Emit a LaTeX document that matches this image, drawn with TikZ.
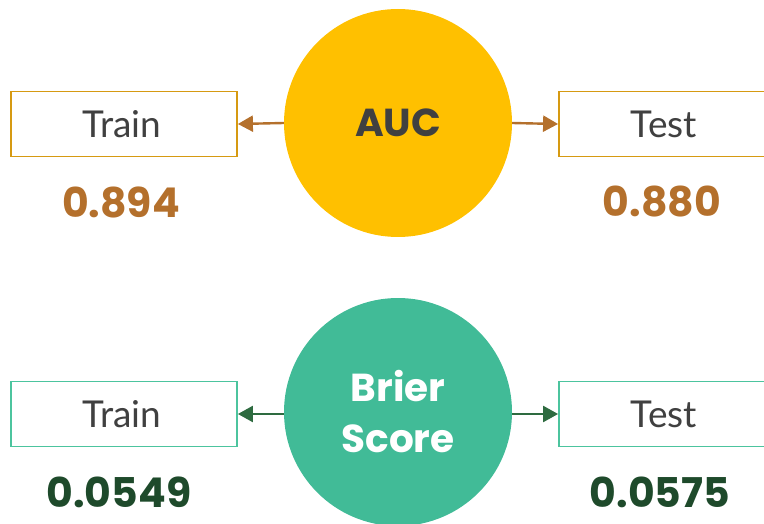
\documentclass[tikz,border=0pt]{standalone}
\usepackage{fontspec}
\setmainfont{Lato}
\newfontfamily\heavyfont{Poppins}[UprightFont=* SemiBold, BoldFont=* Bold]
\usetikzlibrary{arrows.meta}
\definecolor{gold}{HTML}{FFC000}
\definecolor{goldline}{HTML}{D69A12}
\definecolor{arrbrown}{HTML}{B4702C}
\definecolor{tealfill}{HTML}{41BB97}
\definecolor{tealline}{HTML}{4CC49E}
\definecolor{dgreen}{HTML}{2E6B40}
\definecolor{dkgreen}{HTML}{1E4A2B}
\definecolor{txt}{HTML}{404040}
\tikzset{
  box/.style={draw, line width=1.8pt, fill=white, minimum width=226pt, minimum height=65pt, inner sep=0pt},
  boxtext/.style={text=txt, font=\fontsize{37}{40}\selectfont},
  metric/.style={circle, minimum size=228pt, inner sep=0pt, align=center, font=\heavyfont\bfseries\fontsize{39}{51}\selectfont},
  val/.style={font=\heavyfont\bfseries\fontsize{41}{44}\selectfont},
  conn/.style={line width=2.4pt, -{Triangle[length=15pt,width=16pt]}}
}
\begin{document}
\begin{tikzpicture}[x=1pt,y=-1pt]
\useasboundingbox (0,0) rectangle (764,524);
\begin{scope}
\clip (0,0) rectangle (764,524);
% AUC row
\node[metric, fill=gold, text=txt] (auc) at (398,123) {AUC};
\node[box, draw=goldline] (tr1) at (124,124) {};
\node[boxtext] (tr1t) at (122,124) {Train};
\node[box, draw=goldline] (te1) at (672,124) {};
\node[boxtext] (te1t) at (664,124) {Test};
\draw[conn, arrbrown] (auc.west) -- (tr1.east);
\draw[conn, arrbrown] (auc.east) -- (te1.west);
\node[val, text=arrbrown] (v1) at (121,202) {0.894};
\node[val, text=arrbrown] (v2) at (662,202) {0.880};
% Brier row
\node[metric, fill=tealfill, text=white] (brier) at (398,412) {Brier\\Score};
\node[box, draw=tealline] (tr2) at (124,414) {};
\node[boxtext] (tr2t) at (122,414) {Train};
\node[box, draw=tealline] (te2) at (672,414) {};
\node[boxtext] (te2t) at (664,414) {Test};
\draw[conn, dgreen] (brier.west |- tr2.east) -- (tr2.east);
\draw[conn, dgreen] (brier.east |- te2.west) -- (te2.west);
\node[val, text=dkgreen] (v3) at (119,492) {0.0549};
\node[val, text=dkgreen] (v4) at (660,492) {0.0575};
\end{scope}
\end{tikzpicture}
\end{document}
